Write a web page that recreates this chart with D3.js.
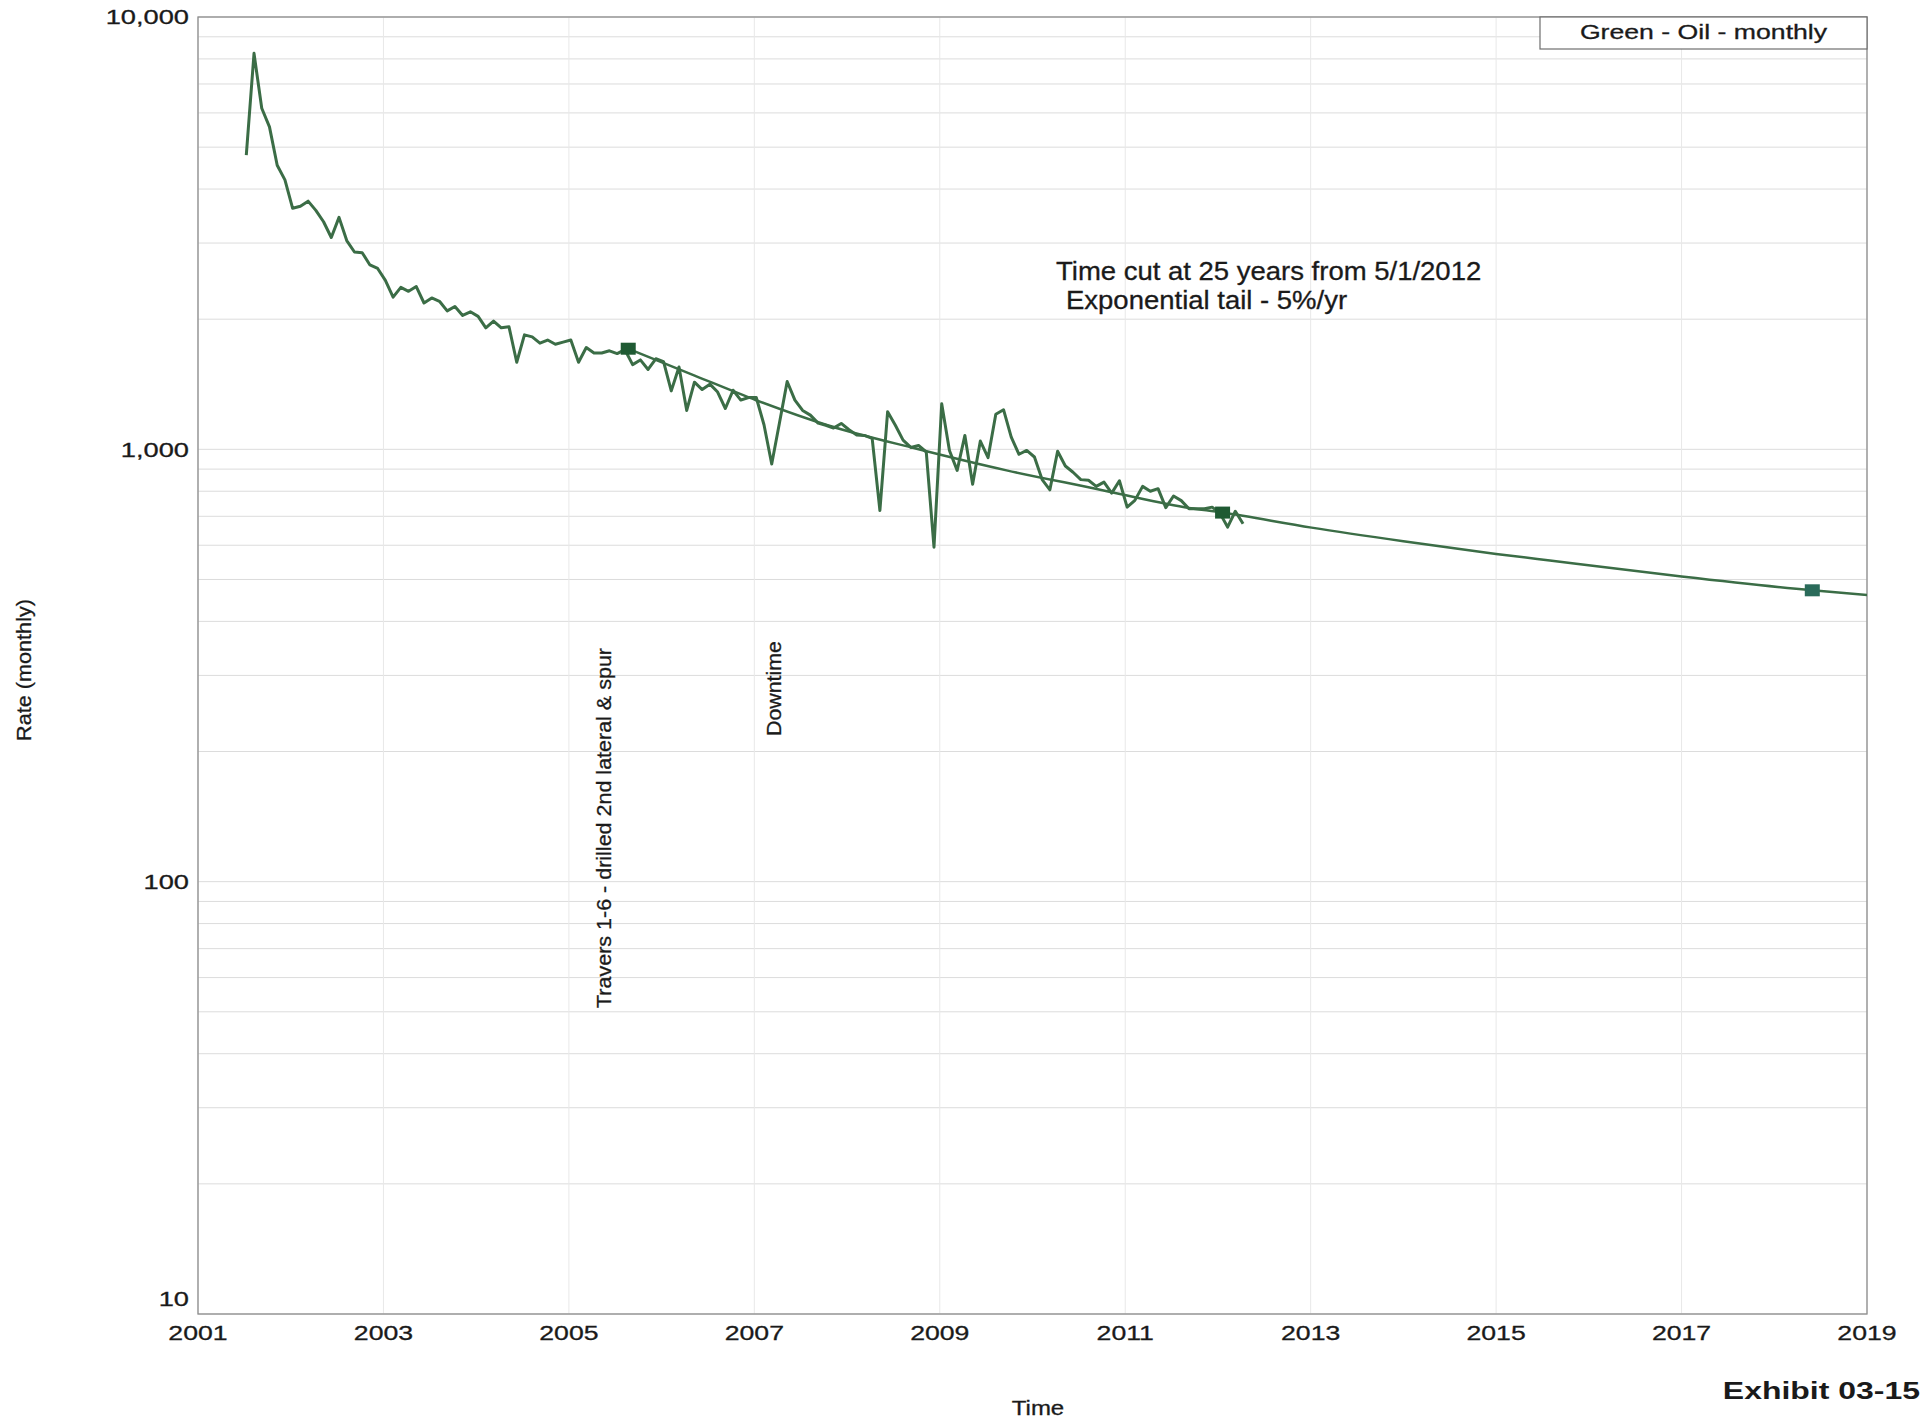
<!DOCTYPE html>
<html>
<head>
<meta charset="utf-8">
<script src="https://cdn.jsdelivr.net/npm/d3@7"></script>
<style>
  body { margin: 0; background: #fff; }
  svg { display: block; }
  text { font-family: "Liberation Sans", Arial, Helvetica, sans-serif; }
</style>
</head>
<body>
<svg id="chart" width="1922" height="1424"></svg>
<script>
// Monthly oil rate, first value is July 2001
const firstYear = 2001;
const firstMonthIndex = 6; // 0 = January
const monthlyRate = [
  4790, 8240, 6150, 5570, 4540, 4200,                    // 2001 Jul-Dec
  3610, 3650, 3750, 3570, 3360, 3090, 3440, 3040, 2860, 2850, 2670, 2620, // 2002
  2460, 2250, 2370, 2320, 2380, 2180, 2240, 2200, 2090, 2140, 2040, 2080, // 2003
  2030, 1910, 1980, 1910, 1920, 1590, 1840, 1820, 1760, 1790, 1750, 1770, // 2004
  1790, 1590, 1720, 1670, 1670, 1690, 1665, 1700, 1570, 1610, 1530, 1620, // 2005
  1595, 1365, 1550, 1230, 1430, 1375, 1415, 1357, 1243, 1370, 1300, 1318, // 2006
  1318, 1140, 925, 1150, 1435, 1300, 1230, 1200, 1150, 1137, 1120, 1148,  // 2007
  1110, 1080, 1077, 1060, 722, 1222, 1137, 1050, 1010, 1021, 986, 594,    // 2008
  1275, 994, 894, 1077, 830, 1045, 957, 1205, 1235, 1067, 974, 994,       // 2009
  960, 851, 806, 990, 915, 885, 851, 848, 821, 840, 792, 846,             // 2010
  735, 762, 821, 800, 811, 733, 780, 761, 729, 729, 729, 735,             // 2011
  712, 661, 719, 673                                                      // 2012 Jan-Apr
];

// Decline-curve forecast (decimal year, rate)
const forecastYear = [2005.64, 2006.35, 2007.02, 2007.79, 2008.75, 2009.72, 2010.68, 2011.64,
                      2012.05, 2013.01, 2014.0, 2015.0, 2015.58, 2017.0, 2018.41, 2019.02];
const forecastRate = [1709, 1483, 1299, 1137, 1003, 894, 811, 735,
                      714, 659, 613, 573, 553, 508, 472, 460];

// Forecast anchor points
const markerYear = [2005.64, 2012.05, 2018.41];
const markerRate = [1709, 714, 472];
const markerColor = ["#1f5a33", "#1f5a33", "#2a6b5a"];

// Event notes
const eventYear = [2005.45, 2007.29];
const eventText = ["Travers 1-6 - drilled 2nd lateral & spur", "Downtime"];

const yearTicks = [2001, 2003, 2005, 2007, 2009, 2011, 2013, 2015, 2017, 2019];
const rateTicks = [10, 100, 1000, 10000];
const seriesName = "Green - Oil - monthly";
const noteLines = ["Time cut at 25 years from 5/1/2012", "Exponential tail - 5%/yr"];
const xTitle = "Time";
const yTitle = "Rate (monthly)";
const exhibit = "Exhibit 03-15";

// ---- layout ----
const plot = { left: 198, right: 1867, top: 17, bottom: 1314 };
const lineColor = "#3b6d46";
const ink = "#1a1a1a";

const svg = d3.select("#chart");
svg.append("rect").attr("width", 1922).attr("height", 1424).attr("fill", "#fff");

const x = d3.scaleLinear().domain([2001, 2019]).range([plot.left, plot.right]);
const y = d3.scaleLog().domain([10, 10000]).range([plot.bottom, plot.top]);

// horizontally stretched text helper
function label(parent, px, py, str, opt = {}) {
  const o = Object.assign({ size: 20, sx: 1.3, anchor: "middle", weight: "normal", dy: null }, opt);
  const t = parent.append("text")
    .attr("transform", `translate(${px},${py}) scale(${o.sx},1)`)
    .attr("text-anchor", o.anchor)
    .attr("font-size", o.size)
    .attr("font-weight", o.weight)
    .attr("fill", ink)
    .attr("stroke", ink).attr("stroke-width", o.weight === "bold" ? 0 : 0.3)
    .text(str);
  if (o.dy) t.attr("dy", o.dy);
  return t;
}

// ---- grid ----
const grid = svg.append("g");
grid.selectAll("line.h").data(y.ticks()).join("line")
  .attr("x1", plot.left).attr("x2", plot.right)
  .attr("y1", d => y(d)).attr("y2", d => y(d))
  .attr("stroke", "#dcdcdc").attr("stroke-width", 1);
grid.selectAll("line.v").data(yearTicks).join("line")
  .attr("x1", d => x(d)).attr("x2", d => x(d))
  .attr("y1", plot.top).attr("y2", plot.bottom)
  .attr("stroke", "#e8e8e8").attr("stroke-width", 1);

// frame
svg.append("rect")
  .attr("x", plot.left).attr("y", plot.top)
  .attr("width", plot.right - plot.left).attr("height", plot.bottom - plot.top)
  .attr("fill", "none").attr("stroke", "#8c8c8c").attr("stroke-width", 1.3);

// ---- tick labels ----
const axisG = svg.append("g");
rateTicks.forEach(v => {
  const py = Math.min(y(v), plot.bottom - 15);
  label(axisG, plot.left - 9, py, d3.format(",")(v), { size: 20.5, sx: 1.33, anchor: "end", dy: "0.36em" });
});
yearTicks.forEach(v => {
  label(axisG, x(v), 1340, String(v), { size: 20.5 });
});

// ---- series ----
svg.append("clipPath").attr("id", "plotClip").append("rect")
  .attr("x", plot.left).attr("y", plot.top)
  .attr("width", plot.right - plot.left).attr("height", plot.bottom - plot.top);

const monthly = monthlyRate.map((v, i) => ({
  t: firstYear + (firstMonthIndex + i + 0.25) / 12,
  v
}));
const forecast = forecastYear.map((t, i) => ({ t, v: forecastRate[i] }));

const series = svg.append("g").attr("clip-path", "url(#plotClip)");

series.append("path").datum(forecast)
  .attr("d", d3.line().curve(d3.curveMonotoneX).x(d => x(d.t)).y(d => y(d.v)))
  .attr("fill", "none").attr("stroke", lineColor).attr("stroke-width", 2.5);

series.append("path").datum(monthly)
  .attr("d", d3.line().x(d => x(d.t)).y(d => y(d.v)))
  .attr("fill", "none").attr("stroke", lineColor).attr("stroke-width", 3)
  .attr("stroke-linejoin", "round");

series.selectAll("rect.marker").data(markerYear).join("rect")
  .attr("x", d => x(d) - 7.5).attr("y", (d, i) => y(markerRate[i]) - 6)
  .attr("width", 15).attr("height", 12)
  .attr("fill", (d, i) => markerColor[i]);

// ---- legend ----
const legend = svg.append("g");
legend.append("rect")
  .attr("x", 1540).attr("y", plot.top).attr("width", plot.right - 1540).attr("height", 32)
  .attr("fill", "#fff").attr("stroke", "#6e6e6e").attr("stroke-width", 1.2);
label(legend, (1540 + plot.right) / 2, 39, seriesName, { size: 20.5 });

// ---- notes ----
const notes = svg.append("g");
label(notes, 1056, 279.5, noteLines[0], { size: 25, sx: 1.1, anchor: "start" });
label(notes, 1066, 308.5, noteLines[1], { size: 25, sx: 1.1, anchor: "start" });

const eventStartY = [1008, 736];
const eventLength = [360, 95];
eventYear.forEach((yr, i) => {
  notes.append("text")
    .attr("transform", `translate(${x(yr)},${eventStartY[i]}) rotate(-90)`)
    .attr("font-size", 21).attr("fill", ink)
    .attr("stroke", ink).attr("stroke-width", 0.3)
    .attr("textLength", eventLength[i]).attr("lengthAdjust", "spacingAndGlyphs")
    .text(eventText[i]);
});

// ---- titles ----
label(svg, 1038, 1415, xTitle, { size: 20, sx: 1.2 });
svg.append("text")
  .attr("transform", `translate(31,670) rotate(-90)`)
  .attr("text-anchor", "middle").attr("font-size", 20).attr("fill", ink)
  .attr("stroke", ink).attr("stroke-width", 0.3)
  .attr("textLength", 142).attr("lengthAdjust", "spacingAndGlyphs")
  .text(yTitle);
label(svg, 1920, 1399, exhibit, { size: 23.5, sx: 1.36, anchor: "end", weight: "bold" });
</script>
</body>
</html>
